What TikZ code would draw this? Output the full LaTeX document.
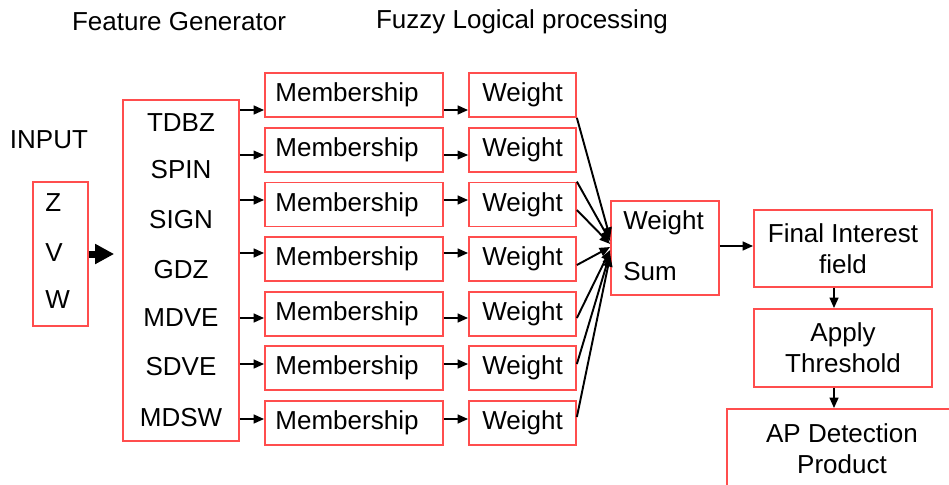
\documentclass[tikz,border=0pt]{standalone}
\usepackage{fontspec}
\setmainfont{Liberation Sans}
\usetikzlibrary{arrows.meta}
\definecolor{boxred}{RGB}{255,77,77}
\tikzset{
  box/.style={draw=boxred, line width=1pt, inner sep=0pt, align=center},
  mbox/.style={box, minimum width=3.56cm, minimum height=0.88cm},
  wbox/.style={box, minimum width=2.14cm, minimum height=0.88cm},
  txt/.style={inner sep=0pt},
  arr/.style={-{Triangle[length=6pt,width=5pt]}, line width=1.2pt},
  thinarr/.style={-{Triangle[length=6pt,width=5pt]}, line width=0.6pt},
  sumarr/.style={-{Triangle[length=6pt,width=5pt]}, line width=1.1pt},
  bigarr/.style={-{Triangle[length=0.38cm,width=0.38cm]}, line width=0.14cm},
}

\begin{document}
\begin{tikzpicture}[x=0.02cm, y=-0.02cm, font=\fontsize{14.8pt}{17.8pt}\selectfont]
			\useasboundingbox (0,0) rectangle (949,484);
			\clip (0,0) rectangle (949,484);
			% headings
			\node[txt] (hfeat) at (179,22) {Feature Generator};
			\node[txt] (hfuzzy) at (522,22) {Fuzzy Logical processing};
			% input
			\node[txt] (input) at (49,140) {INPUT};
			\node[box, minimum width=1.1cm, minimum height=2.88cm] (inp) at (60.5,254) {};
			\node[txt, anchor=west] (z) at (45,203) {Z};
			\node[txt, anchor=west] (v) at (45,253) {V};
			\node[txt, anchor=west] (w) at (45,300) {W};
			% feature generator
			\node[box, minimum width=2.32cm, minimum height=6.82cm] (feat) at (181,270.5) {};
			\node[txt] (tdbz) at (181,123) {TDBZ};
			\node[txt] (spin) at (181,170) {SPIN};
			\node[txt] (sign) at (181,220) {SIGN};
			\node[txt] (gdz) at (181,270) {GDZ};
			\node[txt] (mdve) at (181,318) {MDVE};
			\node[txt] (sdve) at (181,367) {SDVE};
			\node[txt] (mdsw) at (181,418) {MDSW};
			\draw[bigarr] (inp.east) -- ([xshift=-0.16cm]feat.west |- inp.east);
			% membership functions
			\node[mbox] (m1) at (354,95) {Membership\hspace{8pt}};
			\node[mbox] (m2) at (354,150) {Membership\hspace{8pt}};
			\node[mbox] (m3) at (354,204.5) {Membership\hspace{8pt}};
			\node[mbox] (m4) at (354,259) {Membership\hspace{8pt}};
			\node[mbox] (m5) at (354,314) {Membership\hspace{8pt}};
			\node[mbox] (m6) at (354,368) {Membership\hspace{8pt}};
			\node[mbox] (m7) at (354,423) {Membership\hspace{8pt}};
			% weights
			\node[wbox] (w1) at (522.5,95) {Weight};
			\node[wbox] (w2) at (522.5,150) {Weight};
			\node[wbox] (w3) at (522.5,204.5) {Weight};
			\node[wbox] (w4) at (522.5,259) {Weight};
			\node[wbox] (w5) at (522.5,314) {Weight};
			\node[wbox] (w6) at (522.5,368) {Weight};
			\node[wbox] (w7) at (522.5,423) {Weight};
			\draw[arr] (feat.east |- 0,110) -- (m1.west |- 0,110);
			\draw[thinarr] (feat.east |- 0,155) -- (m2.west |- 0,155);
			\draw[arr] (feat.east |- 0,200) -- (m3.west |- 0,200);
			\draw[arr] (feat.east |- 0,253) -- (m4.west |- 0,253);
			\draw[arr] (feat.east |- 0,318) -- (m5.west |- 0,318);
			\draw[arr] (feat.east |- 0,364) -- (m6.west |- 0,364);
			\draw[arr] (feat.east |- 0,419) -- (m7.west |- 0,419);
			\draw[arr] (m1.east |- 0,110) -- (w1.west |- 0,110);
			\draw[thinarr] (m2.east |- 0,155) -- (w2.west |- 0,155);
			\draw[arr] (m3.east |- 0,200) -- (w3.west |- 0,200);
			\draw[arr] (m4.east |- 0,253) -- (w4.west |- 0,253);
			\draw[arr] (m5.east |- 0,318) -- (w5.west |- 0,318);
			\draw[arr] (m6.east |- 0,364) -- (w6.west |- 0,364);
			\draw[arr] (m7.east |- 0,419) -- (w7.west |- 0,419);
			% weight sum
			\node[box, minimum width=2.16cm, minimum height=1.88cm] (ws) at (665,248) {};
			\node[txt, anchor=west] (wsa) at (623,223) {Weight};
			\node[txt, anchor=west] (wsb) at (623,272) {Sum};
			\draw[sumarr] (w1.south east) -- (ws.west |- 0,238);
			\draw[sumarr] (w3.north east) -- (ws.west |- 0,241);
			\draw[sumarr] (w3.east |- 0,210) -- (ws.west |- 0,244);
			\draw[sumarr] (w4.east |- 0,265) -- (ws.west |- 0,247);
			\draw[sumarr] (w5.east |- 0,318) -- (ws.west |- 0,250);
			\draw[sumarr] (w6.east |- 0,364) -- (ws.west |- 0,253);
			\draw[sumarr] (w7.east |- 0,417) -- (ws.west |- 0,256);
			% output chain
			\node[box, minimum width=3.56cm, minimum height=1.54cm] (fin) at (843,248.5) {Final Interest\\field};
			\node[box, minimum width=3.56cm, minimum height=1.56cm] (thr) at (843,348) {Apply\\Threshold};
			\node[box, minimum width=4.6cm, minimum height=1.6cm] (ap) at (842,449) {AP Detection\\Product};
			\draw[arr] (ws.east |- 0,246) -- (fin.west |- 0,246);
			\draw[sumarr] (fin.south -| 834,0) -- (thr.north -| 834,0);
			\draw[sumarr] (thr.south -| 834,0) -- (ap.north -| 834,0);
\end{tikzpicture}
\end{document}
